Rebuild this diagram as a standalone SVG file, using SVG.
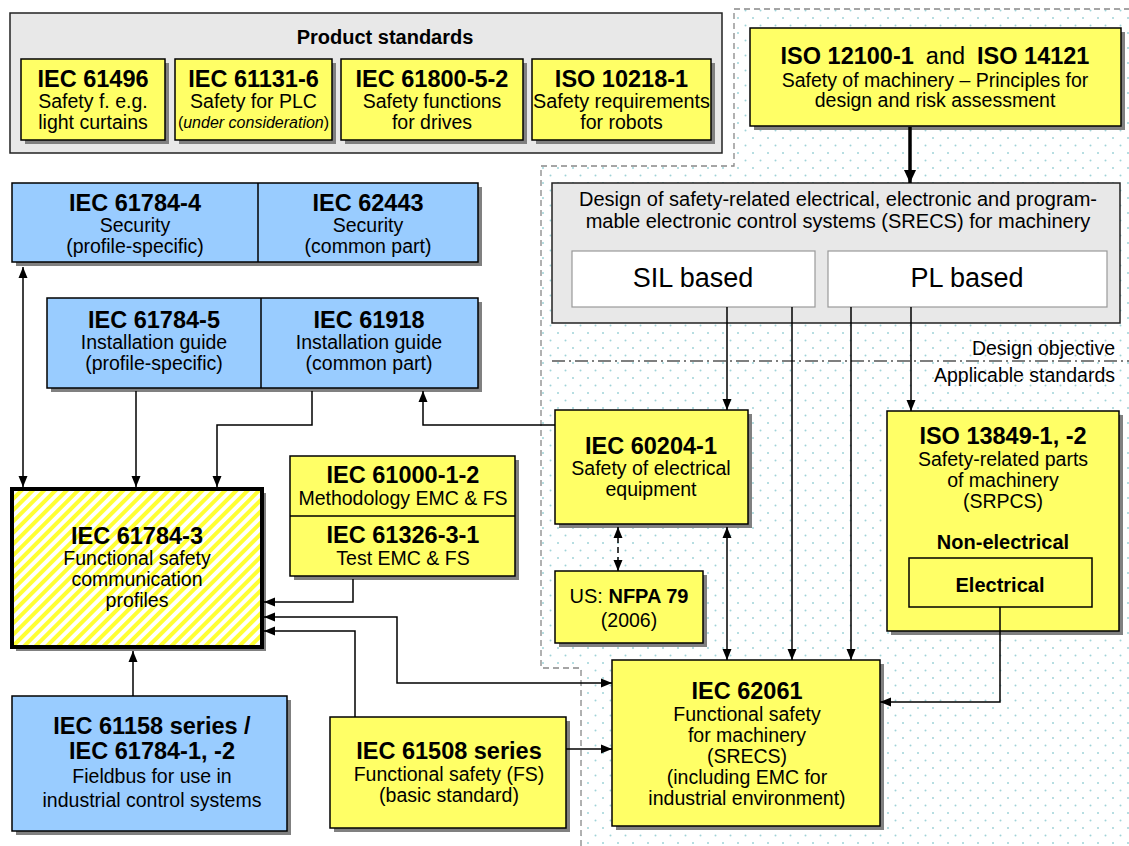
<svg xmlns="http://www.w3.org/2000/svg" width="1129" height="846" viewBox="0 0 1129 846">
<style>
text{font-family:"Liberation Sans",Arial,Helvetica,sans-serif;fill:#000}
.t{font-size:23.5px;font-weight:bold;text-anchor:middle}
.s{font-size:19.5px;text-anchor:middle}
.y{fill:#ffff66;stroke:#000;stroke-width:1.5}
.b{fill:#99ccff;stroke:#000;stroke-width:1.5}
.g{fill:#e8e8e8;stroke:#222;stroke-width:1.5}
.sh{fill:#808080}
.c{fill:none;stroke:#000;stroke-width:1.5}
.a{marker-end:url(#ah)}
.a2{marker-start:url(#ah);marker-end:url(#ah)}
</style>
<defs>
<marker id="ah" viewBox="0 0 11 10" refX="11" refY="5" markerWidth="11" markerHeight="10" markerUnits="userSpaceOnUse" orient="auto-start-reverse"><path d="M0,0.5 L11,5 L0,9.5 z" fill="#000"/></marker>
<marker id="ahT" viewBox="0 0 14 14" refX="14" refY="7" markerWidth="14" markerHeight="13" markerUnits="userSpaceOnUse" orient="auto"><path d="M0,0.5 L14,7 L0,13.5 z" fill="#000"/></marker>
<pattern id="dots" width="15" height="15" patternUnits="userSpaceOnUse"><circle cx="3" cy="3" r="1" fill="#9fd3d8"/><circle cx="10.5" cy="10.5" r="1" fill="#9fd3d8"/></pattern>
<pattern id="hatch" width="8" height="8" patternUnits="userSpaceOnUse" patternTransform="rotate(45)"><rect width="8" height="8" fill="#fff"/><rect width="4" height="8" fill="#ffff33"/></pattern>
</defs>
<rect width="1129" height="846" fill="#fff"/>

<g id="region">
<path d="M734,9 H1135 V850 H581 V668 H541 V166 H734 Z" fill="url(#dots)" stroke="#888" stroke-width="1.3" stroke-dasharray="6,4"/>
<line x1="552" y1="361" x2="1129" y2="361" stroke="#000" stroke-width="1.2" stroke-dasharray="13,4,2,4"/>
<text x="1115" y="355" style="font-size:19.5px;text-anchor:end">Design objective</text>
<text x="1115" y="382" style="font-size:19.5px;text-anchor:end">Applicable standards</text>
</g>

<g id="product-standards">
<rect x="10" y="13" width="712" height="140" class="g"/>
<text x="385" y="44" style="font-size:20px;font-weight:bold;text-anchor:middle">Product standards</text>
</g>
<g id="iec61496">
<rect x="25" y="63" width="144" height="81" class="sh"/><rect x="21" y="59" width="144" height="81" class="y"/>
<text x="93" y="87" class="t">IEC 61496</text>
<text x="93" y="108" class="s">Safety f. e.g.</text>
<text x="93" y="129" class="s">light curtains</text>
</g>
<g id="iec61131">
<rect x="179" y="63" width="157" height="81" class="sh"/><rect x="175" y="59" width="157" height="81" class="y"/>
<text x="253.5" y="87" class="t">IEC 61131-6</text>
<text x="253.5" y="108" class="s">Safety for PLC</text>
<text x="253.5" y="128" style="font-size:16px;text-anchor:middle">(<tspan font-style="italic">under consideration</tspan>)</text>
</g>
<g id="iec61800">
<rect x="345" y="63" width="182" height="81" class="sh"/><rect x="341" y="59" width="182" height="81" class="y"/>
<text x="432" y="87" class="t">IEC 61800-5-2</text>
<text x="432" y="108" class="s">Safety functions</text>
<text x="432" y="129" class="s">for drives</text>
</g>
<g id="iso10218">
<rect x="536" y="63" width="179" height="81" class="sh"/><rect x="532" y="59" width="179" height="81" class="y"/>
<text x="621.5" y="87" class="t">ISO 10218-1</text>
<text x="621.5" y="108" class="s" textLength="177" lengthAdjust="spacingAndGlyphs">Safety requirements</text>
<text x="621.5" y="129" class="s">for robots</text>
</g>

<g id="iso12100">
<rect x="754" y="32" width="371" height="98" class="sh"/><rect x="750" y="28" width="371" height="98" class="y"/>
<text x="935" y="64" style="font-size:23.5px;text-anchor:middle"><tspan font-weight="bold">ISO 12100-1</tspan><tspan dx="12">and</tspan><tspan dx="12" font-weight="bold">ISO 14121</tspan></text>
<text x="935" y="87" class="s">Safety of machinery – Principles for</text>
<text x="935" y="107" class="s">design and risk assessment</text>
</g>

<g id="srecs">
<rect x="552" y="183" width="568" height="140" class="g"/>
<text x="838" y="206" style="font-size:20px;text-anchor:middle">Design of safety-related electrical, electronic and program-</text>
<text x="838" y="228" style="font-size:20px;text-anchor:middle">mable electronic control systems (SRECS) for machinery</text>
</g>
<g id="sil">
<rect x="572" y="251" width="243" height="56" fill="#fff" stroke="#999" stroke-width="1.2"/>
<text x="693" y="287" style="font-size:27px;text-anchor:middle">SIL based</text>
</g>
<g id="pl">
<rect x="828" y="251" width="279" height="56" fill="#fff" stroke="#999" stroke-width="1.2"/>
<text x="967" y="287" style="font-size:27px;text-anchor:middle">PL based</text>
</g>

<g id="security">
<rect x="16" y="187" width="466" height="79" class="sh"/><rect x="12" y="183" width="466" height="79" class="b"/>
<line x1="258" y1="183" x2="258" y2="262" stroke="#000" stroke-width="1.5"/>
<text x="135" y="211" class="t">IEC 61784-4</text>
<text x="135" y="232" class="s">Security</text>
<text x="135" y="253" class="s">(profile-specific)</text>
<text x="368" y="211" class="t">IEC 62443</text>
<text x="368" y="232" class="s">Security</text>
<text x="368" y="253" class="s">(common part)</text>
</g>
<g id="installation">
<rect x="51" y="302" width="431" height="90" class="sh"/><rect x="47" y="298" width="431" height="90" class="b"/>
<line x1="261" y1="298" x2="261" y2="388" stroke="#000" stroke-width="1.5"/>
<text x="154" y="328" class="t">IEC 61784-5</text>
<text x="154" y="349" class="s">Installation guide</text>
<text x="154" y="370" class="s">(profile-specific)</text>
<text x="369" y="328" class="t">IEC 61918</text>
<text x="369" y="349" class="s">Installation guide</text>
<text x="369" y="370" class="s">(common part)</text>
</g>

<g id="iec61784-3">
<rect x="16" y="493" width="250" height="158" class="sh"/>
<rect x="12" y="489" width="250" height="158" fill="url(#hatch)" stroke="#000" stroke-width="4"/>
<text x="137" y="544" class="t">IEC 61784-3</text>
<text x="137" y="565" class="s">Functional safety</text>
<text x="137" y="586" class="s">communication</text>
<text x="137" y="607" class="s">profiles</text>
</g>

<g id="iec61000">
<rect x="294" y="460" width="225" height="120" class="sh"/><rect x="290" y="456" width="225" height="120" class="y"/>
<line x1="290" y1="516" x2="515" y2="516" stroke="#000" stroke-width="1.5"/>
<text x="403" y="483" class="t">IEC 61000-1-2</text>
<text x="403" y="505" class="s">Methodology EMC &amp; FS</text>
<text x="403" y="543" class="t">IEC 61326-3-1</text>
<text x="403" y="565" class="s">Test EMC &amp; FS</text>
</g>

<g id="iec60204">
<rect x="559" y="414" width="193" height="114" class="sh"/><rect x="555" y="410" width="193" height="114" class="y"/>
<text x="651" y="454" class="t">IEC 60204-1</text>
<text x="651" y="475" class="s">Safety of electrical</text>
<text x="651" y="496" class="s">equipment</text>
</g>
<g id="nfpa79">
<rect x="559" y="575" width="148" height="72" class="sh"/><rect x="555" y="571" width="148" height="72" class="y"/>
<text x="629" y="603" style="font-size:20px;text-anchor:middle">US: <tspan font-weight="bold">NFPA 79</tspan></text>
<text x="629" y="627" class="s">(2006)</text>
</g>

<g id="iso13849">
<rect x="891" y="415" width="232" height="220" class="sh"/><rect x="887" y="411" width="232" height="220" class="y"/>
<text x="1003" y="444" class="t">ISO 13849-1, -2</text>
<text x="1003" y="466" class="s">Safety-related parts</text>
<text x="1003" y="487" class="s">of machinery</text>
<text x="1003" y="508" class="s">(SRPCS)</text>
<text x="1003" y="549" style="font-size:20px;font-weight:bold;text-anchor:middle">Non-electrical</text>
<rect x="909" y="558" width="183" height="49" class="y"/>
<text x="1000" y="592" style="font-size:20px;font-weight:bold;text-anchor:middle">Electrical</text>
</g>

<g id="iec62061">
<rect x="616" y="664" width="268" height="166" class="sh"/><rect x="612" y="660" width="268" height="166" class="y"/>
<text x="747" y="699" class="t">IEC 62061</text>
<text x="747" y="721" class="s">Functional safety</text>
<text x="747" y="742" class="s">for machinery</text>
<text x="747" y="763" class="s">(SRECS)</text>
<text x="747" y="784" class="s">(including EMC for</text>
<text x="747" y="805" class="s">industrial environment)</text>
</g>

<g id="iec61508">
<rect x="334" y="721" width="236" height="111" class="sh"/><rect x="330" y="717" width="236" height="111" class="y"/>
<text x="449" y="759" class="t">IEC 61508 series</text>
<text x="449" y="781" class="s">Functional safety (FS)</text>
<text x="449" y="802" class="s">(basic standard)</text>
</g>

<g id="iec61158">
<rect x="16" y="700" width="275" height="135" class="sh"/><rect x="12" y="696" width="275" height="135" class="b"/>
<text x="152" y="734" class="t">IEC 61158 series /</text>
<text x="152" y="759" class="t">IEC 61784-1, -2</text>
<text x="152" y="783" class="s">Fieldbus for use in</text>
<text x="152" y="807" class="s">industrial control systems</text>
</g>

<g id="connectors">
<path d="M910,127 V183" fill="none" stroke="#000" stroke-width="3.5" marker-end="url(#ahT)"/>
<path d="M727,307 V410" class="c a"/>
<path d="M792,307 V660" class="c a"/>
<path d="M851,307 V660" class="c a"/>
<path d="M911,307 V411" class="c a"/>
<path d="M727,527 V660" class="c a2"/>
<path d="M618,527 V571" class="c a2" stroke-dasharray="6,4"/>
<path d="M555,425 H423 V391" class="c a"/>
<path d="M312,391 V425 H217 V487" class="c a"/>
<path d="M136,391 V487" class="c a"/>
<path d="M23,267 V487" class="c a2"/>
<path d="M353,579 V602 H264" class="c a"/>
<path d="M612,683 H397 V617 H264" class="c a2"/>
<path d="M355,717 V631 H264" class="c a"/>
<path d="M566,749 H612" class="c a"/>
<path d="M1000,607 V702 H880" class="c a"/>
<path d="M133,696 V651" class="c a"/>
</g>
</svg>
